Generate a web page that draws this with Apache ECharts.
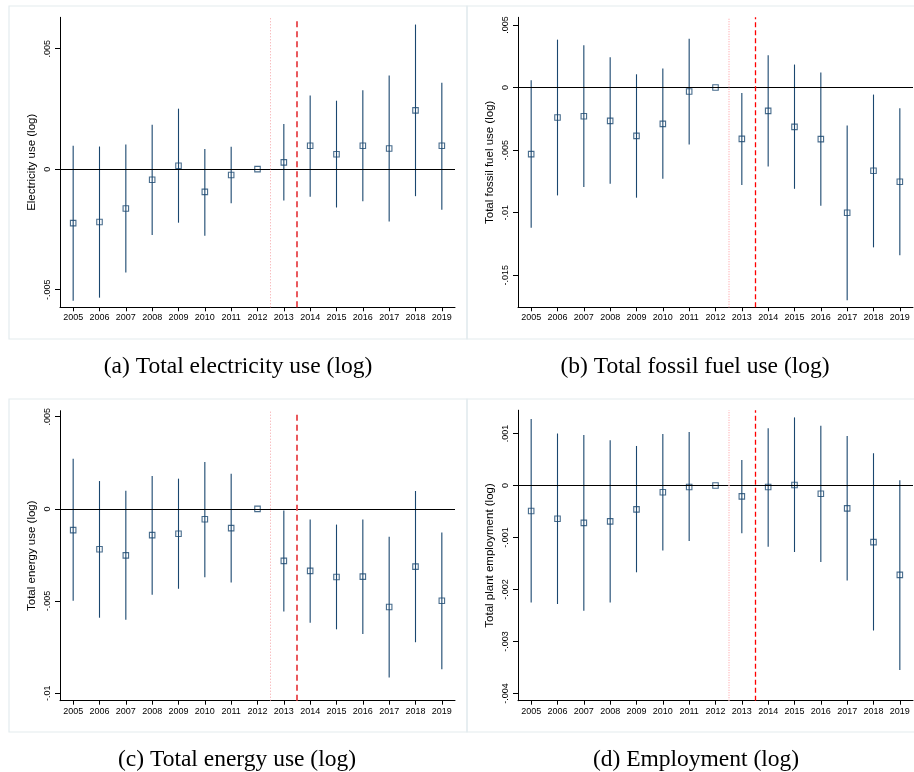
<!DOCTYPE html>
<html>
<head>
<meta charset="utf-8">
<script src="https://cdn.jsdelivr.net/npm/echarts@6/dist/echarts.min.js"></script>
<style>
html,body{margin:0;padding:0;background:#fff;}
#chart{width:914px;height:772px;}
</style>
</head>
<body>
<div id="chart"></div>
<script>
// ---- data ----
const years = [2005,2006,2007,2008,2009,2010,2011,2012,2013,2014,2015,2016,2017,2018,2019];

const elecCoef = [-0.00224,-0.00219,-0.00163,-0.00044,0.00014,-0.00094,-0.00024,0,0.00028,0.00097,0.00062,0.00097,0.00086,0.00244,0.00097];
const elecLo   = [-0.00546,-0.00533,-0.00429,-0.00273,-0.00222,-0.00276,-0.00141,null,-0.00130,-0.00114,-0.00159,-0.00133,-0.00217,-0.00112,-0.00168];
const elecHi   = [0.00097,0.00094,0.00102,0.00184,0.00251,0.00084,0.00093,null,0.00187,0.00306,0.00284,0.00327,0.00389,0.00600,0.00359];

const fossilCoef = [-0.00532,-0.00239,-0.00229,-0.00266,-0.00386,-0.00290,-0.00032,0,-0.00410,-0.00186,-0.00314,-0.00412,-0.01000,-0.00665,-0.00753];
const fossilLo   = [-0.01120,-0.00862,-0.00795,-0.00769,-0.00880,-0.00729,-0.00455,null,-0.00779,-0.00630,-0.00809,-0.00944,-0.01700,-0.01277,-0.01340];
const fossilHi   = [0.00059,0.00383,0.00338,0.00242,0.00106,0.00152,0.00391,null,-0.00043,0.00258,0.00184,0.00120,-0.00303,-0.00056,-0.00165];

const energyCoef = [-0.00115,-0.00219,-0.00252,-0.00142,-0.00135,-0.00056,-0.00104,0,-0.00282,-0.00336,-0.00369,-0.00367,-0.00532,-0.00313,-0.00498];
const energyLo   = [-0.00498,-0.00590,-0.00601,-0.00466,-0.00433,-0.00370,-0.00399,null,-0.00556,-0.00617,-0.00653,-0.00678,-0.00914,-0.00723,-0.00870];
const energyHi   = [0.00272,0.00151,0.00099,0.00178,0.00164,0.00255,0.00191,null,-0.00009,-0.00058,-0.00085,-0.00058,-0.00151,0.00097,-0.00128];

const emplCoef = [-0.00049,-0.00064,-0.00072,-0.00069,-0.00046,-0.00013,-0.00003,0,-0.00021,-0.00003,0.00001,-0.00016,-0.00044,-0.00109,-0.00172];
const emplLo   = [-0.00225,-0.00228,-0.00241,-0.00225,-0.00167,-0.00125,-0.00107,null,-0.00092,-0.00118,-0.00128,-0.00147,-0.00183,-0.00279,-0.00355];
const emplHi   = [0.00128,0.00100,0.00097,0.00087,0.00076,0.00099,0.00103,null,0.00049,0.00110,0.00131,0.00115,0.00095,0.00062,0.00010];

const elecTicks = [-0.005,0,0.005];
const elecTickLabels = ['-.005','0','.005'];
const fossilTicks = [-0.015,-0.01,-0.005,0,0.005];
const fossilTickLabels = ['-.015','-.01','-.005','0','.005'];
const energyTicks = [-0.01,-0.005,0,0.005];
const energyTickLabels = ['-.01','-.005','0','.005'];
const emplTicks = [-0.004,-0.003,-0.002,-0.001,0,0.001];
const emplTickLabels = ['-.004','-.003','-.002','-.001','0','.001'];

const yTitles = ['Electricity use (log)','Total fossil fuel use (log)','Total energy use (log)','Total plant employment (log)'];
const captions = ['(a) Total electricity use (log)','(b) Total fossil fuel use (log)','(c) Total energy use (log)','(d) Employment (log)'];
const preStart = 2012.5;   // dotted line
const treatStart = 2013.5; // dashed line

// ---- layout ----
const panels = [
  {coef:elecCoef, lo:elecLo, hi:elecHi, ticks:elecTicks, labels:elecTickLabels, ymin:-0.00573, ymax:0.0063,
   grid:{left:60, top:17.3, width:395, height:290}, thick:true},
  {coef:fossilCoef, lo:fossilLo, hi:fossilHi, ticks:fossilTicks, labels:fossilTickLabels, ymin:-0.01756, ymax:0.005615,
   grid:{left:518, top:17.3, width:395, height:290}, thick:false},
  {coef:energyCoef, lo:energyLo, hi:energyHi, ticks:energyTicks, labels:energyTickLabels, ymin:-0.0104, ymax:0.005325,
   grid:{left:60, top:410.7, width:395, height:290}, thick:true},
  {coef:emplCoef, lo:emplLo, hi:emplHi, ticks:emplTicks, labels:emplTickLabels, ymin:-0.00414, ymax:0.001448,
   grid:{left:518, top:410.2, width:395, height:290.5}, thick:false}
];

const NAVY = '#1a476f';
const SANS = 'Liberation Sans, Arial, sans-serif';

const grids = [], xAxes = [], yAxes = [], series = [];
panels.forEach((p, i) => {
  grids.push(Object.assign({}, p.grid));
  xAxes.push({
    type:'value', gridIndex:i, min:2004.5, max:2019.5,
    axisLine:{show:true, onZero:false, lineStyle:{color:'#000', width:1}},
    axisTick:{show:true, length:4, customValues:years, lineStyle:{color:'#000'}},
    axisLabel:{show:true, customValues:years, fontSize:9, color:'#000', fontFamily:SANS, margin:6,
      formatter:v => String(Math.round(v))},
    splitLine:{show:false}
  });
  yAxes.push({
    type:'value', gridIndex:i, min:p.ymin, max:p.ymax,
    name:yTitles[i], nameLocation:'middle', nameGap:22, nameRotate:90,
    nameTextStyle:{fontSize:11.5, color:'#000', fontFamily:SANS},
    axisLine:{show:true, onZero:false, lineStyle:{color:'#000', width:1}},
    axisTick:{show:true, length:5, customValues:p.ticks, lineStyle:{color:'#000'}},
    axisLabel:{show:true, customValues:p.ticks, rotate:90, fontSize:9, color:'#000', fontFamily:SANS, margin:8,
      align:'center', verticalAlign:'bottom',
      formatter:v => { const k = p.ticks.findIndex(t => Math.abs(t - v) < 1e-9); return k >= 0 ? p.labels[k] : ''; }},
    splitLine:{show:false}
  });
  const ciData = years.map((y, k) => [y, p.lo[k], p.hi[k]]);
  series.push({
    type:'custom', xAxisIndex:i, yAxisIndex:i, silent:true, z:2,
    data:ciData,
    encode:{x:0, y:[1,2]},
    renderItem:(params, api) => {
      const x = api.value(0), lo = api.value(1), hi = api.value(2);
      if (lo == null || hi == null || isNaN(lo) || isNaN(hi)) return null;
      const a = api.coord([x, lo]), b = api.coord([x, hi]);
      return {type:'line', shape:{x1:a[0], y1:a[1], x2:b[0], y2:b[1]},
        style:{stroke:NAVY, lineWidth:1.1}};
    }
  });
  const dashStyle = p.thick ? {color:'#e8474c', width:1.8, type:[6,4]} : {color:'#ff0000', width:1.3, type:[5,3]};
  const dotStyle = p.thick ? {color:'#f5a3a6', width:1, type:[1,2]} : {color:'#ffbfc2', width:1.6, type:[1,1.5]};
  series.push({
    type:'scatter', xAxisIndex:i, yAxisIndex:i, z:3, silent:true,
    symbol:'rect', symbolSize:5.5,
    itemStyle:{color:'rgba(255,255,255,0)', borderColor:NAVY, borderWidth:1.1},
    data:years.map((y, k) => [y, p.coef[k]]),
    markLine:{
      silent:true, symbol:'none', label:{show:false}, animation:false,
      data:[
        {yAxis:0, lineStyle:{color:'#000', width:1, type:'solid'}},
        {xAxis:preStart, lineStyle:dotStyle},
        {xAxis:treatStart, lineStyle:dashStyle}
      ]
    }
  });
});

const borderColor = '#e3ebee';
const graphics = [
  {type:'rect', shape:{x:9, y:6, width:458, height:333}, style:{fill:'none', stroke:borderColor, lineWidth:1.2}, z:-1},
  {type:'rect', shape:{x:467, y:6, width:470, height:333}, style:{fill:'none', stroke:borderColor, lineWidth:1.2}, z:-1},
  {type:'rect', shape:{x:9, y:399, width:458, height:333}, style:{fill:'none', stroke:borderColor, lineWidth:1.2}, z:-1},
  {type:'rect', shape:{x:467, y:399, width:470, height:333}, style:{fill:'none', stroke:borderColor, lineWidth:1.2}, z:-1}
];
const capPos = [[238,367],[695,367],[237,760],[696,760]];
captions.forEach((c, i) => {
  graphics.push({type:'text', x:capPos[i][0], y:capPos[i][1],
    style:{text:c, fontFamily:'Liberation Serif, Times New Roman, serif', fontSize:23.5, fill:'#000',
      textAlign:'center', textVerticalAlign:'middle'}});
});

const chart = echarts.init(document.getElementById('chart'), null, {renderer:'canvas'});
chart.setOption({
  animation:false,
  backgroundColor:'#fff',
  grid:grids, xAxis:xAxes, yAxis:yAxes, series:series,
  graphic:graphics
});
</script>
</body>
</html>
